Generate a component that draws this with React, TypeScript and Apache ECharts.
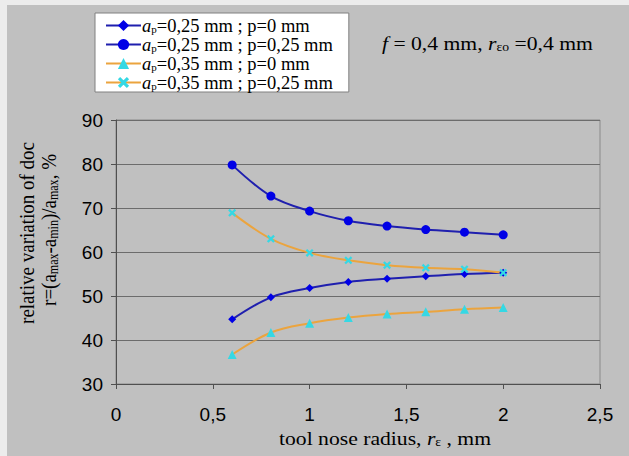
import React, { useEffect, useRef } from "react";
import * as echarts from "echarts";

const xValues = [0.6, 0.8, 1.0, 1.2, 1.4, 1.6, 1.8, 2.0];
const ap025p0 = [44.7, 49.7, 51.8, 53.2, 53.9, 54.5, 55.0, 55.3];
const ap025p025 = [79.8, 72.7, 69.3, 67.1, 65.9, 65.1, 64.5, 63.9];
const ap035p0 = [36.7, 41.7, 43.8, 45.1, 45.9, 46.4, 47.0, 47.4];
const ap035p025 = [68.9, 63.0, 59.8, 58.1, 57.0, 56.4, 56.1, 55.3];
const legendNames = [
  "ap=0,25 mm ; p=0 mm",
  "ap=0,25 mm ; p=0,25 mm",
  "ap=0,35 mm ; p=0 mm",
  "ap=0,35 mm ; p=0,25 mm",
];
const legendRich = [
  "{a|a}{s|p}{t|=0,25 mm ; p=0 mm}",
  "{a|a}{s|p}{t|=0,25 mm ; p=0,25 mm}",
  "{a|a}{s|p}{t|=0,35 mm ; p=0 mm}",
  "{a|a}{s|p}{t|=0,35 mm ; p=0,25 mm}",
];

const SERIF = "Liberation Serif";
const SANS = "Liberation Sans";
const BLUE_LINE = "#1f1fae";
const BLUE_MARK = "#0000e6";
const ORANGE = "#eba43e";
const CYAN = "#35d8e4";
const X_SYMBOL = "path://M0,2L2,0L5,3L8,0L10,2L7,5L10,8L8,10L5,7L2,10L0,8L3,5Z";
const SX = 1.14;

const pairs = (ys: number[]) => xValues.map((x, i) => [x, ys[i]]);

export default function App() {
  const ref = useRef<HTMLDivElement>(null);
  useEffect(() => {
    if (!ref.current) return;
    const chart = echarts.init(ref.current, undefined, { renderer: "svg" });
    const legendTextRich = {
      a: { fontFamily: SERIF, fontSize: 18.5, fontStyle: "italic", color: "#000", lineHeight: 18.5 },
      s: { fontFamily: SERIF, fontSize: 11, color: "#000", verticalAlign: "bottom", lineHeight: 12 },
      t: { fontFamily: SERIF, fontSize: 18.5, color: "#000", lineHeight: 18.5 },
    };
    const gRich = {
      t: { fontFamily: SERIF, fontSize: 19, fill: "#000", lineHeight: 21 },
      i: { fontFamily: SERIF, fontSize: 19, fontStyle: "italic", fill: "#000", lineHeight: 21 },
      s: { fontFamily: SERIF, fontSize: 12, fill: "#000", verticalAlign: "bottom", lineHeight: 13 },
    };
    const mkSeries = (name: string, ys: number[], lineColor: string, symbol: string, size: number, markColor: string) => ({
      name,
      type: "line",
      data: pairs(ys),
      smooth: 0.35,
      symbol,
      symbolSize: size,
      showSymbol: true,
      lineStyle: { color: lineColor, width: 2 },
      itemStyle: { color: markColor, borderColor: markColor, borderWidth: 0 },
    });
    chart.setOption({
      animation: false,
      backgroundColor: "#ececec",
      graphic: [
        { type: "rect", z: -10, shape: { x: 7, y: 5, width: 622, height: 451 }, style: { fill: "#c0c0c0" } },
        {
          type: "text", x: 27, y: 233, rotation: Math.PI / 2, scaleY: SX,
          style: { text: "relative variation of doc", font: `19px "${SERIF}"`, fill: "#000", align: "center", verticalAlign: "middle" },
        },
        {
          type: "text", x: 49, y: 230, rotation: Math.PI / 2, scaleY: SX,
          style: {
            text: "{t|r=(a}{s|max}{t|-a}{s|min}{t|)/a}{s|max}{t|, %}",
            align: "center", verticalAlign: "middle",
            rich: gRich,
          },
        },
        {
          type: "text", x: 385, y: 438, scaleX: SX,
          style: {
            text: "{t|tool nose radius, }{i|r}{s|ε}{t| , mm}",
            align: "center", verticalAlign: "middle",
            rich: gRich,
          },
        },
        {
          type: "text", x: 382, y: 43, scaleX: SX,
          style: {
            text: "{i|f}{t| = 0,4 mm, }{i|r}{s|εo}{t| =0,4 mm}",
            align: "left", verticalAlign: "middle",
            rich: gRich,
          },
        },
      ],
      legend: {
        orient: "vertical",
        left: 95,
        top: 13,
        backgroundColor: "#ffffff",
        borderColor: "#808080",
        borderWidth: 1,
        padding: [3, 16, 0, 10],
        itemGap: 0,
        itemWidth: 35,
        itemHeight: 14,
        data: legendNames,
        formatter: (name: string) => legendRich[legendNames.indexOf(name)],
        textStyle: { rich: legendTextRich, padding: [0, 0, 0, -4] },
      },
      grid: { left: 116, right: 29, top: 120, bottom: 72, show: true, borderColor: "#8a8a8a", borderWidth: 1, backgroundColor: "transparent" },
      xAxis: {
        type: "value",
        min: 0,
        max: 2.5,
        interval: 0.5,
        axisLine: { lineStyle: { color: "#505050", width: 1 } },
        axisTick: { show: true, length: 5, lineStyle: { color: "#505050" } },
        splitLine: { show: false },
        axisLabel: {
          margin: 21,
          fontFamily: SANS,
          fontSize: 19,
          color: "#000",
          formatter: (v: number) => String(v).replace(".", ","),
        },
      },
      yAxis: {
        type: "value",
        min: 30,
        max: 90,
        interval: 10,
        axisLine: { show: true, lineStyle: { color: "#505050", width: 1 } },
        axisTick: { show: true, length: 5, lineStyle: { color: "#505050" } },
        splitLine: { show: true, lineStyle: { color: "#6c6c6c", width: 1 } },
        axisLabel: { margin: 13, fontFamily: SANS, fontSize: 19, color: "#000" },
      },
      series: [
        mkSeries(legendNames[0], ap025p0, BLUE_LINE, "diamond", 8, BLUE_MARK),
        mkSeries(legendNames[1], ap025p025, BLUE_LINE, "circle", 9, BLUE_MARK),
        mkSeries(legendNames[2], ap035p0, ORANGE, "triangle", 9, CYAN),
        mkSeries(legendNames[3], ap035p025, ORANGE, X_SYMBOL, 8, CYAN),
      ],
    });
    return () => chart.dispose();
  }, []);
  return <div ref={ref} style={{ position: "fixed", left: 0, top: 0, width: 629, height: 456 }} />;
}
